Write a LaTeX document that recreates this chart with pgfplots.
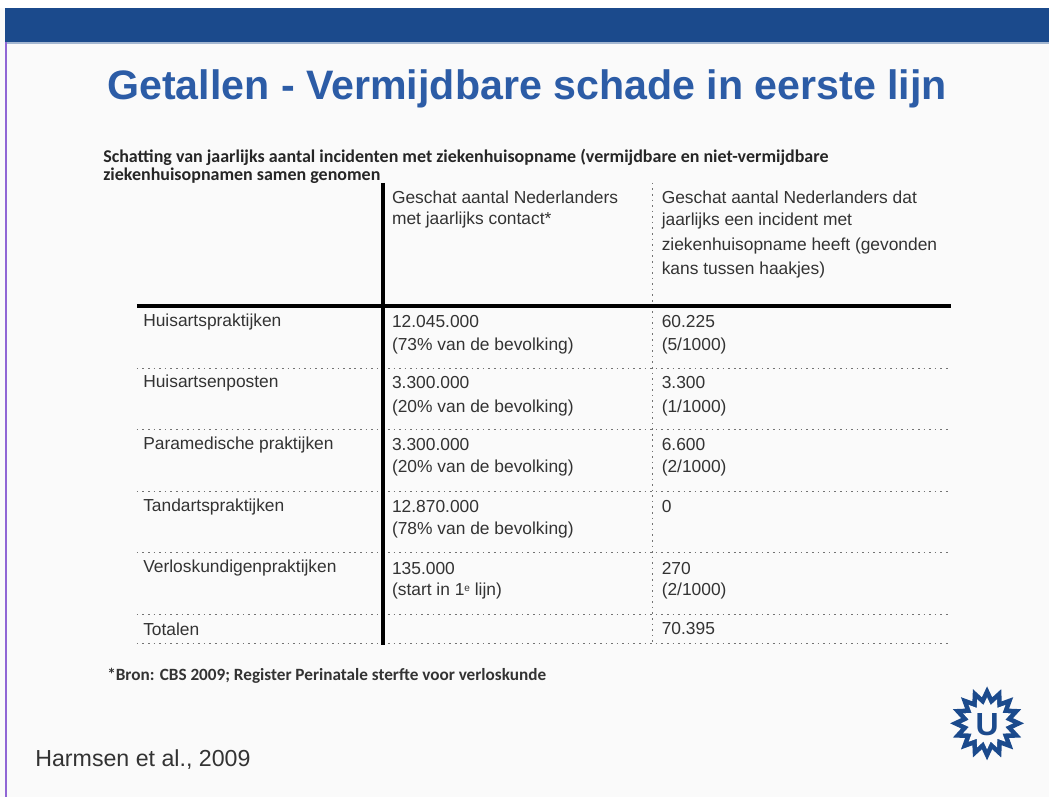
\documentclass[border=0pt]{standalone}
\usepackage{pgfplots}
\pgfplotsset{compat=1.18}
\usepackage{pgfplotstable}
\usepackage{fontspec}
\setmainfont{Liberation Sans}
\newfontfamily\calibri{Carlito}
\usetikzlibrary{shapes.geometric}

\definecolor{barblue}{HTML}{1B4A8C}
\definecolor{titleblue}{HTML}{2C5CA6}
\definecolor{txt}{HTML}{333333}
\definecolor{bg}{HTML}{FAFAFA}

% one point per text line, pixel coordinates of the slide
\pgfplotstableread[col sep=semicolon]{
x;y;label
143;322;Huisartspraktijken
143;383;Huisartsenposten
143;445;Paramedische praktijken
143;507;Tandartspraktijken
143;569;Verloskundigenpraktijken
143;630;Totalen
}\colA

\pgfplotstableread[col sep=semicolon]{
x;y;label
392;197;Geschat aantal Nederlanders
392;220;met jaarlijks contact*
392;322;12.045.000
392;346;(73\% van de bevolking)
392;383;3.300.000
392;408;(20\% van de bevolking)
392;445;3.300.000
392;468;(20\% van de bevolking)
392;507;12.870.000
392;531;(78\% van de bevolking)
392;569;135.000
392;592;(start in 1\raisebox{0.5ex}{\fontsize{5bp}{5bp}\selectfont e} lijn)
}\colB

\pgfplotstableread[col sep=semicolon]{
x;y;label
662;197;Geschat aantal Nederlanders dat
662;221;jaarlijks een incident met
662;246;ziekenhuisopname heeft (gevonden
662;270;kans tussen haakjes)
662;322;60.225
662;346;(5/1000)
662;383;3.300
662;408;(1/1000)
662;445;6.600
662;468;(2/1000)
662;507;0
662;569;270
662;592;(2/1000)
662;629;70.395
}\colC

\begin{document}
\begin{tikzpicture}
\begin{axis}[
    scale only axis,
    width=525bp, height=399bp,
    xmin=0, xmax=1050, ymin=0, ymax=798,
    y dir=reverse,
    axis lines=none,
    xtick=\empty, ytick=\empty,
    clip=false,
    nodes near coords,
    point meta=explicit symbolic,
    nodes near coords align={anchor=west},
    every node near coord/.append style={
        anchor=west, inner sep=0pt, text=txt,
        font=\fontsize{8.7bp}{10bp}\selectfont},
]
% slide background
\fill[bg] (axis cs:0,0) rectangle (axis cs:1050,798);
\fill[white] (axis cs:0,0) rectangle (axis cs:1050,8);
\fill[barblue] (axis cs:5,8) rectangle (axis cs:1050,42);
\draw[barblue!40, line width=1bp] (axis cs:5,43.5) -- (axis cs:1050,43.5);
\draw[blue!45!violet!60, line width=1bp] (axis cs:6,42) -- (axis cs:6,798);

% title and texts
\node[anchor=west, inner sep=0pt, text=titleblue,
      font=\fontsize{20.6bp}{24bp}\selectfont\bfseries]
    at (axis cs:107,89) {Getallen - Vermijdbare schade in eerste lijn};
\node[anchor=west, inner sep=0pt, text=black!85,
      font=\fontsize{9bp}{10bp}\calibri\bfseries]
    at (axis cs:103,157) {Schatting van jaarlijks aantal incidenten met ziekenhuisopname (vermijdbare en niet-vermijdbare};
\node[anchor=west, inner sep=0pt, text=black!85,
      font=\fontsize{9bp}{10bp}\calibri\bfseries]
    at (axis cs:103,176) {ziekenhuisopnamen samen genomen};
\node[anchor=west, inner sep=0pt, text=black!80,
      font=\fontsize{8.6bp}{10bp}\calibri\bfseries]
    at (axis cs:107,676) {*Bron: CBS 2009; Register Perinatale sterfte voor verloskunde};
\node[anchor=west, inner sep=0pt, text=txt,
      font=\fontsize{11.6bp}{14bp}\selectfont]
    at (axis cs:35,760) {Harmsen et al., 2009};

% table rules
\pgfplotsinvokeforeach{369,430,492,553,615,644}{
    \draw[black!55, dotted, line width=0.8bp] (axis cs:137,#1) -- (axis cs:950,#1);
}
\draw[black!55, dotted, line width=0.8bp] (axis cs:653,183) -- (axis cs:653,645);
\draw[black, line width=2bp] (axis cs:137,306) -- (axis cs:952,306);
\draw[black, line width=2bp] (axis cs:383,183) -- (axis cs:383,646);

% table cells
\addplot[draw=none, mark=none] table[x=x, y=y, meta=label] {\colA};
\addplot[draw=none, mark=none] table[x=x, y=y, meta=label] {\colB};
\addplot[draw=none, mark=none] table[x=x, y=y, meta=label] {\colC};

% university logo
\node[star, star points=16, star point ratio=1.4, fill=barblue,
      minimum size=37bp, inner sep=0pt] at (axis cs:988,724) {};
\node[star, star points=16, star point ratio=1.4, fill=bg,
      minimum size=26bp, inner sep=0pt] at (axis cs:988,724) {};
\node[inner sep=0pt, text=barblue, font=\fontsize{16bp}{16bp}\selectfont\bfseries]
    at (axis cs:988,725) {U};
\end{axis}
\end{tikzpicture}
\end{document}
